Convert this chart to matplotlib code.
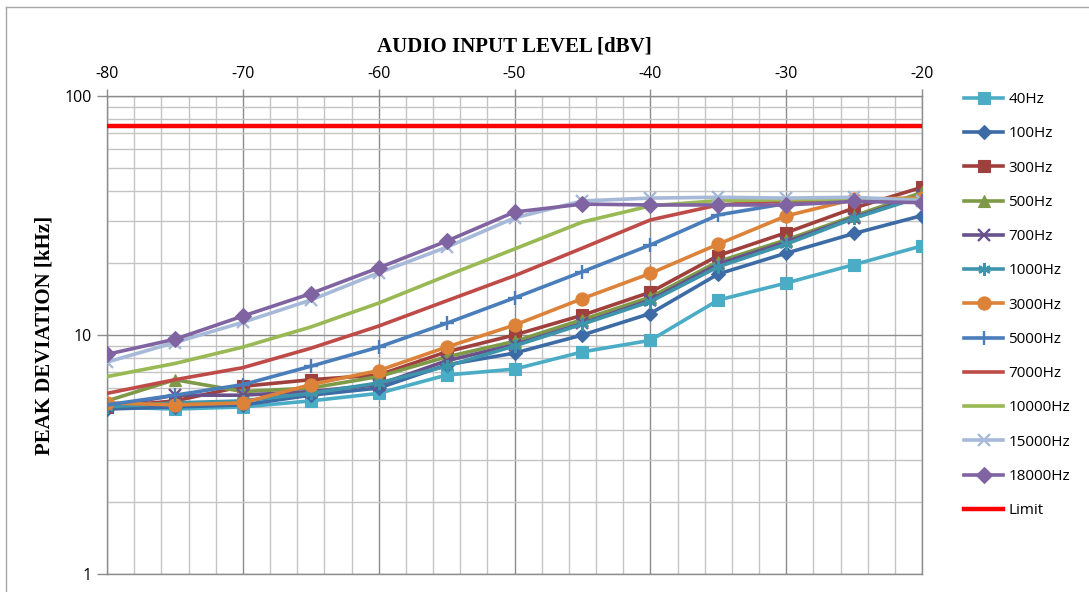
import numpy as np
import matplotlib
matplotlib.use("Agg")
import matplotlib.pyplot as plt
from matplotlib.ticker import MultipleLocator, LogLocator, FixedLocator, NullFormatter

# audio input level, dBV
level = [-80, -75, -70, -65, -60, -55, -50, -45, -40, -35, -30, -25, -20]

# peak deviation, kHz, one list per modulating tone
dev_40 = [5.0, 4.9, 5.0, 5.3, 5.7, 6.8, 7.2, 8.5, 9.5, 14.0, 16.5, 19.7, 23.6]
dev_100 = [4.9, 5.0, 5.1, 5.6, 6.0, 7.5, 8.4, 10.0, 12.3, 18.0, 22.0, 26.6, 31.6]
dev_300 = [5.0, 5.3, 6.1, 6.5, 6.8, 8.5, 10.0, 12.1, 15.1, 21.5, 26.8, 34.0, 41.5]
dev_500 = [5.3, 6.5, 5.8, 6.0, 6.7, 8.1, 9.4, 11.6, 14.4, 20.3, 25.0, 31.5, 39.5]
dev_700 = [5.0, 5.6, 5.6, 5.8, 6.2, 7.8, 9.1, 11.2, 14.0, 19.8, 24.5, 31.0, 38.5]
dev_1000 = [5.0, 5.2, 5.3, 5.7, 6.3, 7.4, 9.0, 11.1, 13.8, 19.3, 24.0, 30.8, 38.0]
dev_3000 = [5.2, 5.1, 5.2, 6.2, 7.1, 8.9, 11.0, 14.2, 18.1, 24.0, 31.5, 37.0, 37.5]
dev_5000 = [5.1, 5.6, 6.2, 7.4, 8.9, 11.2, 14.3, 18.4, 23.8, 31.8, 35.5, 36.5, 36.5]
dev_7000 = [5.7, 6.5, 7.3, 8.8, 10.9, 13.9, 17.7, 23.1, 30.3, 35.0, 36.5, 36.5, 36.5]
dev_10000 = [6.7, 7.6, 8.9, 10.8, 13.6, 17.7, 22.9, 29.7, 34.7, 36.5, 36.8, 37.0, 37.0]
dev_15000 = [7.7, 9.3, 11.3, 14.0, 18.2, 23.3, 30.9, 36.4, 37.4, 37.7, 37.4, 37.7, 36.5]
dev_18000 = [8.3, 9.6, 12.0, 14.9, 19.1, 24.7, 32.7, 35.3, 35.0, 35.0, 35.0, 36.2, 35.8]
limit = [75] * len(level)

labels = ["40Hz", "100Hz", "300Hz", "500Hz", "700Hz", "1000Hz", "3000Hz",
          "5000Hz", "7000Hz", "10000Hz", "15000Hz", "18000Hz"]
series = [dev_40, dev_100, dev_300, dev_500, dev_700, dev_1000, dev_3000,
          dev_5000, dev_7000, dev_10000, dev_15000, dev_18000]
colors = ["#4BACC6", "#3C6BA5", "#A0403D", "#7E9A48", "#69518A", "#3E94AB",
          "#DC8239", "#4A7EBB", "#BE4B48", "#98B954", "#A7B9D8", "#8064A2"]
markers = ["s", "D", "s", "^", "x", (6, 2, 0), "o", "+", None, None, "x", "D"]
msizes = [8.5, 7.5, 8.5, 8.5, 8.5, 9, 9.5, 10, 0, 0, 9, 8]

plt.rcParams['font.family'] = ['Open Sans', 'DejaVu Sans']
plt.rcParams['axes.unicode_minus'] = False

fig = plt.figure(figsize=(10.89, 5.92), dpi=100)
ax = fig.add_axes([107/1089, 1 - 574/592, (922 - 107)/1089, (574 - 96)/592])

for y, lab, c, m, ms in zip(series, labels, colors, markers, msizes):
    ax.plot(level, y, color=c, lw=2.6, marker=m, markersize=ms,
            markeredgewidth=1.7 if m in ("x", "+", (6, 2, 0)) else 0.8,
            markeredgecolor=c, markerfacecolor=c, label=lab, zorder=3)
ax.plot(level, limit, color="#FF0000", lw=3.2, label="Limit", zorder=4)

ax.set_yscale("log")
ax.set_xlim(-80, -20)
ax.set_ylim(1, 100)

ax.xaxis.set_major_locator(MultipleLocator(10))
ax.xaxis.set_minor_locator(MultipleLocator(2))
ax.yaxis.set_major_locator(FixedLocator([1, 10, 100]))
ax.yaxis.set_minor_locator(LogLocator(base=10, subs=np.arange(2, 10)))
ax.yaxis.set_minor_formatter(NullFormatter())
ax.set_yticklabels(["1", "10", "100"])

ax.grid(which="major", color="#8C8C8C", lw=1.0, zorder=0)
ax.grid(which="minor", color="#C4C4C4", lw=1.0, zorder=0)

ax.xaxis.tick_top()
ax.tick_params(axis="x", which="major", length=5, width=1, color="#8C8C8C",
               labelsize=11.5, pad=5)
ax.tick_params(axis="y", which="major", length=7, width=1, color="#8C8C8C",
               labelsize=11.5, pad=4)
ax.tick_params(which="minor", length=0)
for s in ax.spines.values():
    s.set_color("#8C8C8C")
    s.set_linewidth(1.0)

fig.text(514/1089, 1 - 46/592, "AUDIO INPUT LEVEL [dBV]", ha="center", va="center",
         family="Liberation Serif", weight="bold", fontsize=15)
fig.text(45/1089, 1 - 335/592, "PEAK DEVIATION [kHz]", ha="center", va="center",
         rotation=90, family="Liberation Serif", weight="bold", fontsize=15)

ax.legend(loc="upper left", bbox_to_anchor=(958/1089, 1 - 86/592),
          bbox_transform=fig.transFigure, frameon=False, fontsize=11,
          handlelength=2.55, handletextpad=0.35, labelspacing=1.26,
          borderaxespad=0)

# chart area outline
fig.add_artist(plt.Line2D([6/1089, 6/1089], [0, 1 - 7/592], color="#A6A6A6",
                          lw=1.0, transform=fig.transFigure))
fig.add_artist(plt.Line2D([6/1089, 1], [1 - 7/592, 1 - 7/592], color="#A6A6A6",
                          lw=1.0, transform=fig.transFigure))

fig.savefig("out.png", dpi=100)
